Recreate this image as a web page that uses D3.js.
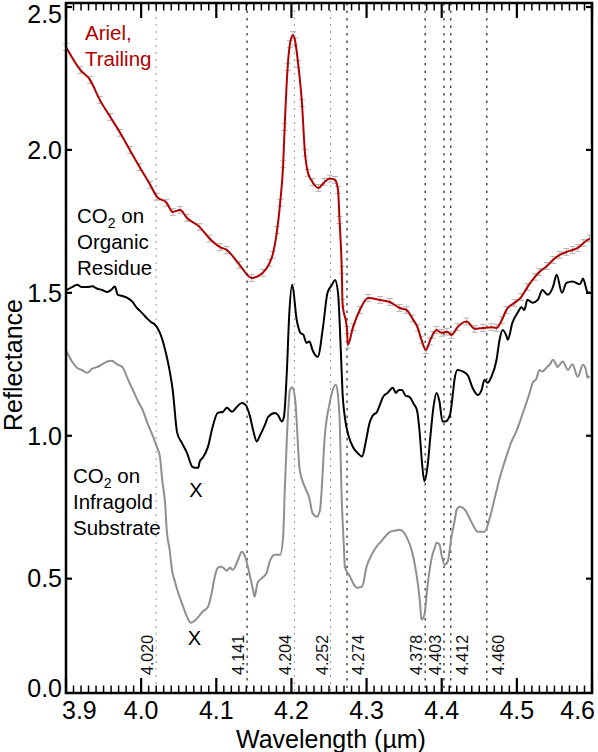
<!DOCTYPE html>
<html><head><meta charset="utf-8">
<script src="https://cdn.jsdelivr.net/npm/d3@7"></script>
<style>body{margin:0;background:#fff}svg{display:block}text{font-family:"Liberation Sans",Arial,sans-serif}</style>
</head><body><svg id="c" width="598" height="752"></svg>
<script>
// ---- data ----
const ariel = [[3.900,2.36],[3.919,2.28],[3.932,2.245],[3.945,2.175],[3.959,2.115],[3.972,2.06],[3.985,2.00],[3.998,1.94],[4.012,1.878],[4.021,1.836],[4.034,1.815],[4.042,1.783],[4.052,1.79],[4.061,1.762],[4.078,1.73],[4.091,1.69],[4.105,1.66],[4.114,1.65],[4.131,1.598],[4.147,1.552],[4.162,1.57],[4.171,1.605],[4.175,1.633],[4.181,1.72],[4.185,1.815],[4.189,1.95],[4.191,2.08],[4.195,2.29],[4.198,2.37],[4.202,2.402],[4.205,2.38],[4.209,2.30],[4.214,2.164],[4.218,1.99],[4.222,1.92],[4.228,1.888],[4.236,1.867],[4.244,1.888],[4.251,1.90],[4.258,1.895],[4.262,1.86],[4.264,1.755],[4.267,1.58],[4.268,1.465],[4.274,1.37],[4.275,1.318],[4.282,1.38],[4.291,1.44],[4.302,1.482],[4.318,1.475],[4.331,1.468],[4.344,1.447],[4.353,1.44],[4.361,1.41],[4.368,1.378],[4.373,1.336],[4.379,1.30],[4.384,1.33],[4.388,1.353],[4.393,1.37],[4.400,1.36],[4.407,1.364],[4.413,1.353],[4.421,1.38],[4.433,1.40],[4.444,1.374],[4.455,1.377],[4.466,1.38],[4.473,1.377],[4.480,1.405],[4.486,1.44],[4.497,1.465],[4.506,1.486],[4.514,1.52],[4.524,1.556],[4.530,1.573],[4.540,1.594],[4.548,1.615],[4.557,1.633],[4.566,1.643],[4.574,1.65],[4.581,1.657],[4.589,1.675],[4.597,1.69]];
const organic = [[3.901,1.51],[3.908,1.52],[3.915,1.528],[3.921,1.52],[3.928,1.52],[3.935,1.523],[3.941,1.515],[3.948,1.51],[3.955,1.503],[3.960,1.51],[3.965,1.522],[3.969,1.493],[3.974,1.49],[3.981,1.483],[3.988,1.47],[3.994,1.448],[4.001,1.43],[4.008,1.41],[4.014,1.396],[4.018,1.39],[4.025,1.36],[4.032,1.30],[4.037,1.24],[4.042,1.16],[4.048,1.01],[4.054,0.976],[4.061,0.94],[4.068,0.892],[4.072,0.888],[4.076,0.888],[4.078,0.91],[4.082,0.923],[4.089,0.962],[4.095,1.03],[4.102,1.08],[4.109,1.084],[4.114,1.098],[4.121,1.084],[4.127,1.10],[4.134,1.115],[4.139,1.108],[4.145,1.066],[4.149,1.02],[4.154,0.98],[4.158,1.00],[4.165,1.04],[4.169,1.066],[4.178,1.08],[4.182,1.073],[4.187,1.05],[4.190,1.066],[4.194,1.23],[4.197,1.42],[4.201,1.528],[4.207,1.406],[4.212,1.36],[4.216,1.353],[4.220,1.325],[4.224,1.33],[4.228,1.30],[4.235,1.276],[4.242,1.38],[4.248,1.50],[4.254,1.528],[4.258,1.545],[4.262,1.50],[4.266,1.28],[4.268,1.15],[4.271,1.066],[4.276,1.00],[4.282,0.96],[4.288,0.94],[4.294,0.927],[4.299,0.98],[4.304,1.045],[4.308,1.07],[4.314,1.084],[4.318,1.11],[4.322,1.136],[4.328,1.15],[4.335,1.168],[4.339,1.15],[4.343,1.16],[4.347,1.16],[4.352,1.14],[4.357,1.136],[4.363,1.11],[4.367,1.09],[4.371,1.00],[4.373,0.93],[4.377,0.84],[4.381,0.89],[4.385,1.00],[4.389,1.10],[4.393,1.15],[4.397,1.12],[4.401,1.05],[4.405,1.05],[4.411,1.073],[4.415,1.15],[4.417,1.196],[4.421,1.23],[4.428,1.225],[4.435,1.21],[4.441,1.168],[4.448,1.143],[4.453,1.16],[4.457,1.196],[4.461,1.185],[4.466,1.206],[4.473,1.266],[4.477,1.336],[4.481,1.37],[4.486,1.35],[4.488,1.336],[4.494,1.395],[4.501,1.43],[4.506,1.45],[4.510,1.44],[4.514,1.476],[4.521,1.465],[4.528,1.476],[4.534,1.51],[4.541,1.493],[4.548,1.52],[4.553,1.563],[4.560,1.50],[4.566,1.535],[4.574,1.54],[4.584,1.53],[4.588,1.55],[4.594,1.503],[4.597,1.50]];
const infragold = [[3.901,1.294],[3.908,1.26],[3.915,1.237],[3.921,1.23],[3.928,1.22],[3.935,1.235],[3.941,1.24],[3.948,1.25],[3.955,1.26],[3.961,1.262],[3.968,1.25],[3.972,1.245],[3.976,1.237],[3.982,1.20],[3.989,1.16],[3.996,1.12],[4.002,1.09],[4.009,1.04],[4.016,0.996],[4.021,0.96],[4.025,0.927],[4.028,0.846],[4.032,0.76],[4.034,0.671],[4.038,0.60],[4.041,0.531],[4.045,0.49],[4.048,0.461],[4.054,0.416],[4.061,0.367],[4.066,0.346],[4.070,0.35],[4.074,0.36],[4.082,0.385],[4.089,0.402],[4.094,0.451],[4.098,0.507],[4.102,0.538],[4.107,0.542],[4.114,0.528],[4.118,0.538],[4.122,0.531],[4.129,0.566],[4.134,0.594],[4.138,0.58],[4.145,0.507],[4.149,0.46],[4.151,0.437],[4.155,0.486],[4.162,0.505],[4.167,0.52],[4.171,0.56],[4.178,0.584],[4.185,0.584],[4.189,0.647],[4.191,0.80],[4.194,0.996],[4.198,1.16],[4.201,1.17],[4.205,1.126],[4.211,0.881],[4.218,0.82],[4.224,0.78],[4.228,0.73],[4.234,0.717],[4.238,0.74],[4.240,0.80],[4.244,0.986],[4.251,1.115],[4.255,1.16],[4.259,1.178],[4.262,1.14],[4.264,1.066],[4.267,0.776],[4.270,0.60],[4.271,0.542],[4.278,0.507],[4.283,0.48],[4.287,0.468],[4.294,0.472],[4.300,0.542],[4.307,0.585],[4.314,0.615],[4.318,0.626],[4.324,0.645],[4.331,0.664],[4.337,0.668],[4.344,0.671],[4.353,0.647],[4.361,0.59],[4.368,0.486],[4.371,0.42],[4.373,0.357],[4.377,0.374],[4.381,0.472],[4.387,0.577],[4.391,0.61],[4.393,0.626],[4.397,0.62],[4.400,0.58],[4.404,0.549],[4.408,0.56],[4.413,0.647],[4.417,0.70],[4.420,0.741],[4.424,0.752],[4.431,0.741],[4.440,0.696],[4.448,0.664],[4.457,0.664],[4.464,0.713],[4.470,0.776],[4.477,0.85],[4.486,0.927],[4.493,0.98],[4.500,1.02],[4.508,1.08],[4.517,1.15],[4.521,1.185],[4.526,1.20],[4.530,1.23],[4.534,1.225],[4.540,1.24],[4.544,1.25],[4.548,1.266],[4.552,1.25],[4.554,1.24],[4.561,1.26],[4.568,1.23],[4.574,1.25],[4.581,1.206],[4.588,1.248],[4.592,1.23],[4.594,1.203],[4.597,1.21]];
const featureLines = [4.020, 4.141, 4.204, 4.252, 4.274, 4.378, 4.403, 4.412, 4.460];
const featureLabels = ["4.020","4.141","4.204","4.252","4.274","4.378","4.403","4.412","4.460"];
const featureLabelSide = ["left","left","left","left","right","left","left","right","right"];
const featureFaint = [true,false,true,true,false,false,false,false,false];
const xTickValues = [3.9, 4.0, 4.1, 4.2, 4.3, 4.4, 4.5, 4.6];
const xTickLabels = ["3.9","4.0","4.1","4.2","4.3","4.4","4.5","4.6"];
const yTickValues = [0.5, 1.0, 1.5, 2.0, 2.5];
const yTickLabels = ["0.5","1.0","1.5","2.0","2.5"];
const yBottomLabel = "0.0";
const xMarks = [[4.073, 0.81], [4.071, 0.293]];
const errBar = 0.012;

// ---- layout ----
const L = 66, R = 592, T = 3, B = 693;
const x = d3.scaleLinear().domain([3.9, 4.6]).range([L, R]);
const y = d3.scaleLinear().domain([0.1, 2.514]).range([B, T]);
const svg = d3.select("#c");

// feature lines
const fg = svg.append("g");
featureLines.forEach((w, i) => {
  fg.append("line").attr("x1", x(w)).attr("x2", x(w)).attr("y1", T).attr("y2", B)
    .attr("stroke", featureFaint[i] ? "#9a9a9a" : "#444")
    .attr("stroke-width", featureFaint[i] ? 1 : 1.4)
    .attr("stroke-dasharray", featureFaint[i] ? "2,5" : "2.5,5");
  const bx = featureLabelSide[i] === "left" ? x(w) - 3 : x(w) + 17;
  fg.append("text").attr("transform", `translate(${bx},675) rotate(-90)`)
    .attr("font-size", 16).attr("fill", "#111").text(featureLabels[i]);
});

const line = d3.line().x(d => x(d[0])).y(d => y(d[1])).curve(d3.curveMonotoneX);

svg.append("path").datum(infragold).attr("d", line).attr("fill", "none").attr("stroke", "#8f8f8f").attr("stroke-width", 2);
svg.append("path").datum(organic).attr("d", line).attr("fill", "none").attr("stroke", "#000").attr("stroke-width", 2);

// error bars on Ariel spectrum
const eg = svg.append("g").attr("stroke", "#b5b5b5").attr("stroke-width", 1);
ariel.forEach(d => {
  const cx = x(d[0]), y1 = y(d[1] - errBar), y2 = y(d[1] + errBar);
  eg.append("line").attr("x1", cx).attr("x2", cx).attr("y1", y1).attr("y2", y2);
  eg.append("line").attr("x1", cx - 3).attr("x2", cx + 3).attr("y1", y1).attr("y2", y1);
  eg.append("line").attr("x1", cx - 3).attr("x2", cx + 3).attr("y1", y2).attr("y2", y2);
});
svg.append("path").datum(ariel).attr("d", line).attr("fill", "none").attr("stroke", "#b30000").attr("stroke-width", 2);

// X marks
xMarks.forEach(m => {
  svg.append("text").attr("x", x(m[0])).attr("y", y(m[1])).attr("dy", "0.36em")
    .attr("text-anchor", "middle").attr("font-size", 20).text("X");
});

// frame
svg.append("rect").attr("x", L).attr("y", T).attr("width", R - L).attr("height", B - T)
  .attr("fill", "none").attr("stroke", "#000").attr("stroke-width", 2.5);

// x ticks (bottom & top, inward)
const minor = d3.range(390, 461).map(v => v / 100);
const tg = svg.append("g").attr("stroke", "#000");
minor.forEach(v => {
  const isMajor = Math.abs(v * 10 - Math.round(v * 10)) < 1e-6;
  const len = isMajor ? 15 : 7.5;
  const w = isMajor ? 2.2 : 1.5;
  tg.append("line").attr("x1", x(v)).attr("x2", x(v)).attr("y1", B).attr("y2", B - len).attr("stroke-width", w);
  tg.append("line").attr("x1", x(v)).attr("x2", x(v)).attr("y1", T).attr("y2", T + len).attr("stroke-width", w);
});
// y ticks (left & right, inward)
yTickValues.forEach(v => {
  tg.append("line").attr("x1", L).attr("x2", L + 6).attr("y1", y(v)).attr("y2", y(v)).attr("stroke-width", 2.2);
  tg.append("line").attr("x1", R).attr("x2", R - 6).attr("y1", y(v)).attr("y2", y(v)).attr("stroke-width", 2.2);
});

// tick labels
xTickValues.forEach((v, i) => {
  const t = svg.append("text").attr("y", 719).attr("font-size", 25).text(xTickLabels[i]);
  if (i === 0) t.attr("x", x(v) - 4).attr("text-anchor", "start");
  else if (i === xTickValues.length - 1) t.attr("x", x(v) + 3).attr("text-anchor", "end");
  else t.attr("x", x(v)).attr("text-anchor", "middle");
});
yTickValues.forEach((v, i) => {
  svg.append("text").attr("x", 62).attr("y", y(v) + (i === yTickValues.length - 1 ? 7 : 0)).attr("dy", "0.35em")
    .attr("text-anchor", "end").attr("font-size", 25).text(yTickLabels[i]);
});
svg.append("text").attr("x", 62).attr("y", y(y.domain()[0]) - 5).attr("dy", "0.35em")
  .attr("text-anchor", "end").attr("font-size", 25).text(yBottomLabel);

// axis titles
svg.append("text").attr("x", (L + R) / 2 + 2).attr("y", 748).attr("text-anchor", "middle")
  .attr("font-size", 25).text("Wavelength (µm)");
svg.append("text").attr("transform", `translate(22,${(T + B) / 2 + 17}) rotate(-90)`)
  .attr("text-anchor", "middle").attr("font-size", 25).text("Reflectance");

// annotations
function block(lines, x0, y0, color) {
  lines.forEach((ln, i) => {
    const t = svg.append("text").attr("x", x0).attr("y", y0 + i * 25.8).attr("font-size", 20.5).attr("fill", color);
    if (ln === "CO2 on") {
      t.append("tspan").text("CO");
      t.append("tspan").attr("font-size", 14).attr("dy", 5).text("2");
      t.append("tspan").attr("dy", -5).text(" on");
    } else t.text(ln);
  });
}
block(["Ariel,", "Trailing"], 85, 40, "#b30000");
block(["CO2 on", "Organic", "Residue"], 77, 223, "#000");
block(["CO2 on", "Infragold", "Substrate"], 73, 483, "#000");
</script></body></html>
